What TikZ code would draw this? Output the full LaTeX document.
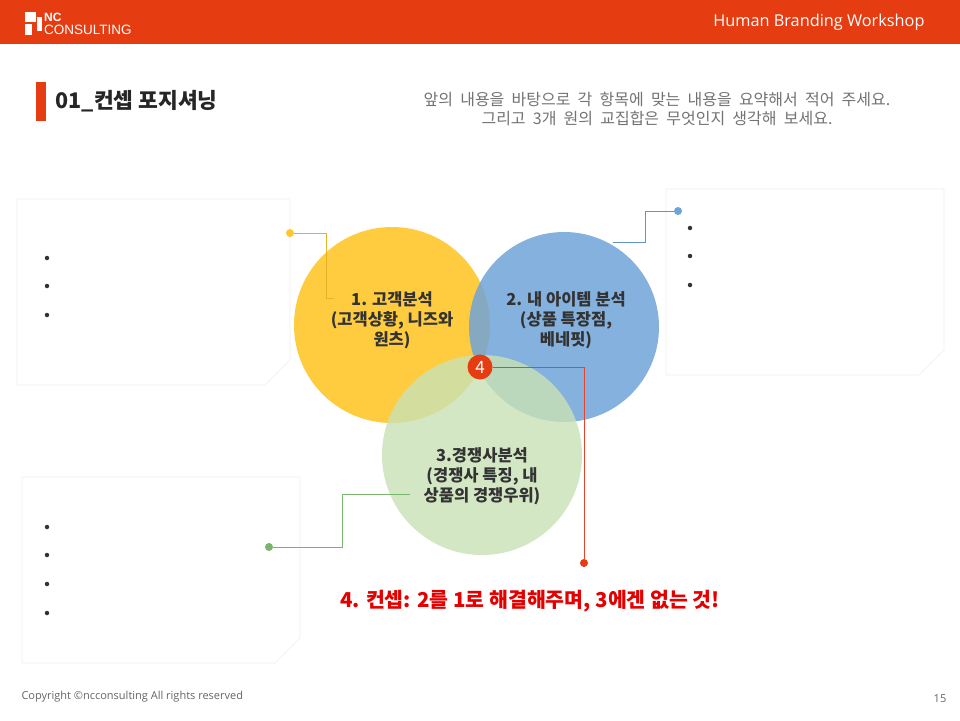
\documentclass[tikz,border=0pt]{standalone}
\usepackage{fontspec}
\setmainfont{Noto Sans CJK KR}
\newfontfamily\lat{Open Sans}
\newfontfamily\arl{Liberation Sans}
\definecolor{hdr}{HTML}{E63C12}
\definecolor{cy}{HTML}{FFC72C}
\definecolor{cb}{HTML}{6FA4D8}
\definecolor{cg}{HTML}{C9E2B6}
\definecolor{txt}{HTML}{333333}
\definecolor{ln}{HTML}{E8432B}
\tikzset{
 card/.style={fill=white,draw=black!6,line width=0.6pt},
 bul/.style={circle,fill=txt,inner sep=0pt,minimum size=4.5pt},
 ctext/.style={align=center,font=\bfseries\fontsize{16.5}{20}\selectfont,text=txt},
 dotn/.style={circle,inner sep=0pt,minimum size=8pt},
}
\begin{document}
\begin{tikzpicture}[x=1pt,y=-1pt]
\useasboundingbox (0,0) rectangle (960,720);
\fill[white] (0,0) rectangle (960,720);
\fill[hdr] (0,0) rectangle (960,44);
% logo
\fill[white] (25,12) rectangle (36,22);
\fill[white] (25,24) rectangle (32,35);
\fill[white] (37,17) rectangle (42,31);
\node[anchor=west,text=white,inner sep=0pt,font=\arl\bfseries\fontsize{12}{12}\selectfont] (nc) at (44,17) {NC};
\node[anchor=west,text=white,inner sep=0pt,font=\arl\fontsize{13.5}{13.5}\selectfont] (cons) at (44,30) {CONSULTING};
\node[anchor=east,text=white,font=\lat\fontsize{16.3}{16.3}\selectfont] (hb) at (928,22) {Human Branding Workshop};
% title
\fill[hdr] (36,82) rectangle (46,121);
\node[anchor=west,text=black!85,font=\bfseries\fontsize{21.5}{21.5}\selectfont] (ttl) at (52,101) {01\_컨셉 포지셔닝};
\node[align=center,text=black!55,font=\fontsize{16}{19}\selectfont,
  execute at begin node={\spaceskip=0.45em plus 0.1em}] (ins) at (657,109) {앞의 내용을 바탕으로 각 항목에 맞는 내용을 요약해서 적어 주세요.\\그리고 3개 원의 교집합은 무엇인지 생각해 보세요.};
% cards
\path[card] (17,199) -- (290,199) -- (290,360) -- (265,385) -- (17,385) -- cycle;
\path[card] (666,189) -- (944,189) -- (944,350) -- (919,375) -- (666,375) -- cycle;
\path[card] (22,477) -- (300,477) -- (300,638) -- (275,663) -- (22,663) -- cycle;
\foreach \y in {258,286,315} \node[bul] at (47,\y) {};
\foreach \y in {228,256,285} \node[bul] at (690,\y) {};
\foreach \y in {527,555,584,613} \node[bul] at (47,\y) {};
% circles
\fill[cy,opacity=0.9] (392,325) circle (98);
\fill[cb,opacity=0.85] (564,327) circle (95);
\fill[cg,opacity=0.8] (482,455) circle (100);
\node[ctext] (c1) at (392,320) {1. 고객분석\\(고객상황, 니즈와\\원츠)};
\node[ctext] (c2) at (566,320) {2. 내 아이템 분석\\(상품 특장점,\\베네핏)};
\node[ctext] (c3) at (482,476) {3.경쟁사분석\\(경쟁사 특징, 내\\상품의 경쟁우위)};
% connectors
\node[dotn,fill=cy] (d1) at (290,233) {};
\draw[cy!90!black,line width=0.8pt] (d1) -- (326,233) -- (326,298) -- (334,298);
\node[dotn,fill=cb] (d2) at (678,211) {};
\draw[cb!90!black,line width=0.8pt] (d2) -- (645,211) -- (645,242) -- (613,242);
\node[dotn,fill=green!45!black!40!cg] (d3) at (269,547) {};
\draw[green!45!black!40!cg,line width=0.8pt] (d3) -- (342,547) -- (342,494) -- (410,494);
\node[circle,fill=hdr,inner sep=0pt,minimum size=25pt,text=white,font=\fontsize{17}{17}\selectfont] (b4) at (480,367) {4};
\node[dotn,fill=hdr] (d4) at (584,563) {};
\draw[ln,line width=0.8pt] (b4) -- (584,367) -- (d4);
\node[text=red!90!black,font=\bfseries\fontsize{20.5}{20.5}\selectfont] (t4) at (530,601) {4. 컨셉: 2를 1로 해결해주며, 3에겐 없는 것!};
% footer
\node[anchor=west,text=black!60,font=\lat\fontsize{11}{11}\selectfont] (cp) at (18,697) {Copyright ©ncconsulting All rights reserved};
\node[text=black!60,font=\lat\fontsize{11}{11}\selectfont] (pg) at (940,699) {15};
\end{tikzpicture}
\end{document}
